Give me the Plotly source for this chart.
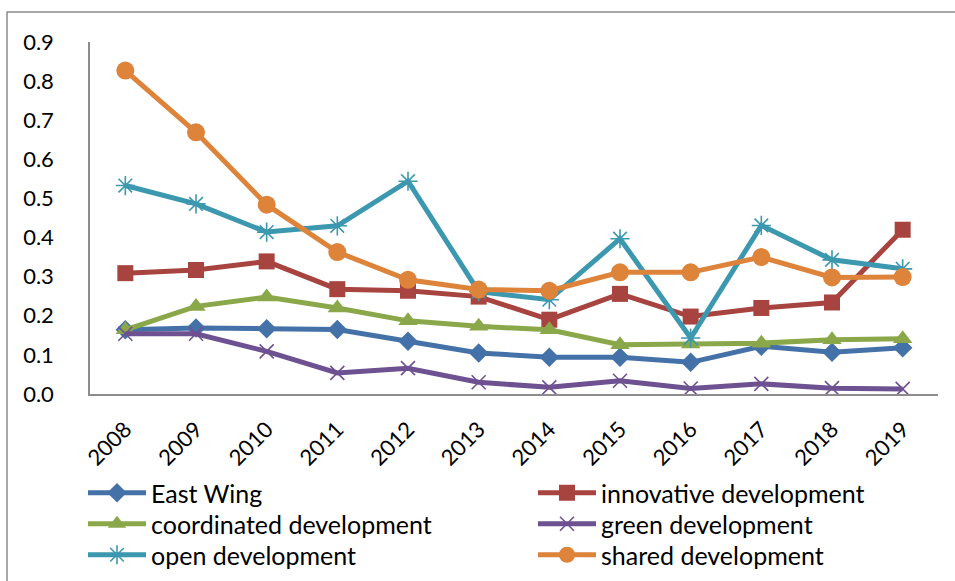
import plotly.graph_objects as go

# Years on the category axis
years = ["2008", "2009", "2010", "2011", "2012", "2013",
         "2014", "2015", "2016", "2017", "2018", "2019"]

# Index values per series
east_wing = [0.164, 0.169, 0.167, 0.165, 0.135, 0.105, 0.094, 0.094, 0.081, 0.122, 0.107, 0.118]
innovative = [0.309, 0.317, 0.339, 0.268, 0.264, 0.249, 0.190, 0.256, 0.198, 0.220, 0.234, 0.420]
coordinated = [0.164, 0.224, 0.248, 0.220, 0.187, 0.173, 0.164, 0.126, 0.128, 0.130, 0.139, 0.141]
green = [0.154, 0.154, 0.109, 0.054, 0.066, 0.030, 0.017, 0.034, 0.014, 0.026, 0.015, 0.013]
open_dev = [0.533, 0.486, 0.414, 0.430, 0.544, 0.262, 0.241, 0.397, 0.143, 0.431, 0.343, 0.320]
shared = [0.827, 0.669, 0.484, 0.363, 0.292, 0.267, 0.264, 0.311, 0.311, 0.350, 0.298, 0.299]

y_ticks = [0.0, 0.1, 0.2, 0.3, 0.4, 0.5, 0.6, 0.7, 0.8, 0.9]

FONT = "Lato, Noto Sans, sans-serif"
W, H = 955, 581
L, R, T, B = 90, 17, 42, 187
PW, PH = W - L - R, H - T - B

# Legend grid: two columns (left edge, px) and three rows (centre line, px)
LEG_COLS = [83, 533]
LEG_ROWS = [493, 524, 555]

# name, values, colour, marker symbol, marker size, marker outline width
series = [
    ("East Wing", east_wing, "#4472A8", "diamond", 15, 0),
    ("innovative development", innovative, "#A8443F", "square", 16, 0),
    ("coordinated development", coordinated, "#8AA84A", "triangle-up", 17, 0),
    ("green development", green, "#6E5191", "x-thin-open", 14, 1.6),
    ("open development", open_dev, "#3C98AF", "asterisk-open", 16, 1.6),
    ("shared development", shared, "#DD833A", "circle", 18, 0),
]

fig = go.Figure()
legends = {}
for i, (name, vals, color, symbol, size, mlw) in enumerate(series):
    leg_id = "legend" if i == 0 else f"legend{i + 1}"
    marker = dict(symbol=symbol, size=size, color=color)
    if mlw:
        marker["line"] = dict(color=color, width=mlw)
    fig.add_trace(go.Scatter(
        x=years, y=vals, name=name, mode="lines+markers",
        line=dict(color=color, width=5),
        marker=marker, legend=leg_id,
    ))
    # each entry gets its own legend box, laid out row-major in two columns
    legends[leg_id] = dict(
        orientation="v", xref="container", yref="container",
        xanchor="left", yanchor="middle",
        x=LEG_COLS[i % 2] / W, y=1 - LEG_ROWS[i // 2] / H,
        itemwidth=58, font=dict(family=FONT, size=25, color="black"),
        bgcolor="rgba(0,0,0,0)", borderwidth=0,
    )

fig.update_layout(
    template="none",
    width=W, height=H,
    margin=dict(l=L, r=R, t=T, b=B, autoexpand=False),
    paper_bgcolor="white", plot_bgcolor="white",
    font=dict(family=FONT, size=22, color="black"),
    showlegend=True,
    shapes=[dict(
        type="rect", xref="paper", yref="paper",
        x0=(7 - L) / PW, x1=(965 - L) / PW,
        y0=-(600 - (H - B)) / PH, y1=1.0 + (T - 12) / PH,
        line=dict(color="#8c8c8c", width=1.5), fillcolor="rgba(0,0,0,0)",
        layer="below",
    )],
    **legends,
)

fig.update_xaxes(
    type="category", tickangle=-45, showline=True, linecolor="#8c8c8c",
    linewidth=1.5, showgrid=False, ticks="", tickfont=dict(size=22),
    range=[-0.5, len(years) - 0.5], automargin=False, zeroline=False,
    ticklabelstandoff=12,
)
fig.update_yaxes(
    range=[0, 0.9], tickvals=y_ticks, tickformat=".1f", showline=True,
    linecolor="#8c8c8c", linewidth=1.5, showgrid=False, ticks="",
    zeroline=False, ticklabelstandoff=30, tickfont=dict(size=22),
    automargin=False,
)

fig.write_html("out.html")
